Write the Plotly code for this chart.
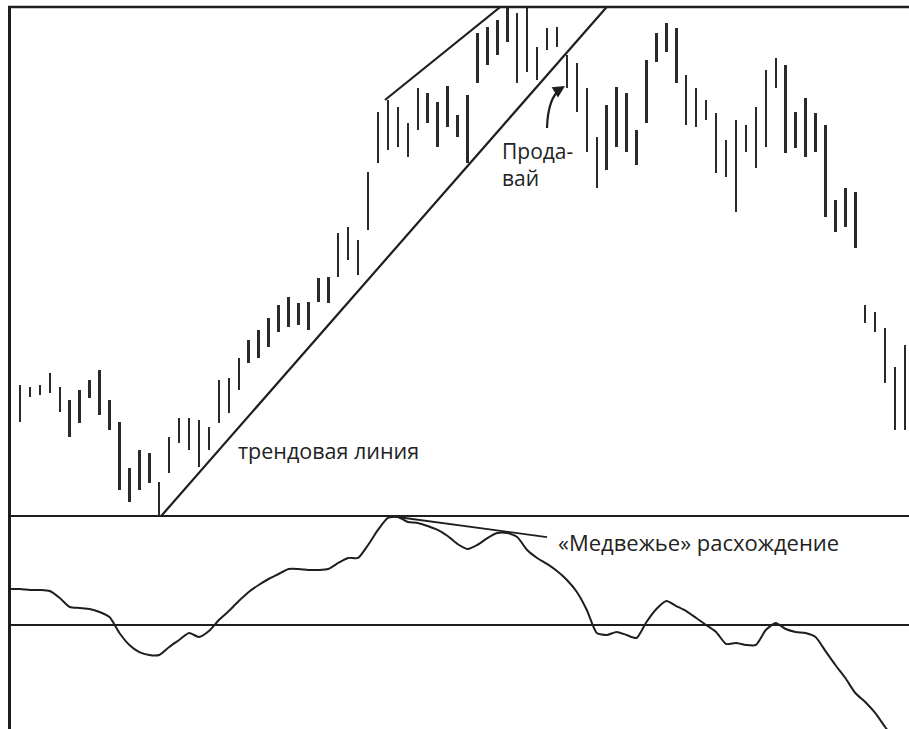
import plotly.graph_objects as go

# ---- data (bar index, price high/low, oscillator) ----
bar_index = list(range(91))
high = [26.6, 26.2, 25.8, 26.2, 28.6, 25.8, 23.2, 25.2, 27.2, 29.2,
        23.2, 18.8, 9.6, 13.2, 12.6, 6.8, 15.8, 19.6, 19.6, 19.2,
        17.8, 27.2, 27.6, 31.6, 35.2, 37.2, 39.6, 42.2, 43.8, 42.6,
        42.8, 47.6, 47.8, 56.6, 57.8, 55.2, 68.8, 80.8, 83.2, 81.8,
        78.6, 85.6, 84.6, 82.8, 86.0, 80.2, 84.2, 96.6, 97.8, 99.2,
        102.2, 100.6, 101.8, 93.8, 97.6, 97.8, 92.2, 90.6, 85.6, 75.8,
        82.2, 85.8, 84.6, 77.2, 91.2, 96.6, 98.6, 97.6, 88.2, 85.6,
        83.2, 80.6, 75.2, 79.2, 78.2, 81.8, 89.2, 91.6, 90.2, 80.8,
        83.6, 80.6, 78.2, 63.2, 65.6, 64.8, 42.2, 40.8, 37.6, 29.8,
        34.2]
low = [21.2, 18.8, 23.8, 24.2, 24.6, 20.8, 15.8, 18.6, 23.6, 20.2,
       17.2, 5.2, 2.8, 5.2, 6.6, 0.2, 8.6, 14.6, 13.2, 9.8,
       13.2, 18.6, 20.6, 25.2, 30.6, 31.6, 33.8, 36.8, 37.8, 38.2,
       37.2, 42.8, 42.6, 47.8, 51.2, 48.2, 57.2, 70.6, 73.2, 73.8,
       71.8, 77.2, 78.6, 73.8, 77.8, 75.8, 70.6, 86.6, 90.2, 92.2,
       94.8, 86.6, 88.8, 87.2, 93.2, 93.8, 85.6, 80.8, 72.8, 65.6,
       69.2, 73.8, 72.8, 70.2, 78.6, 90.8, 92.8, 86.6, 78.2, 77.8,
       79.2, 68.6, 67.8, 60.8, 72.8, 69.6, 73.8, 85.6, 72.6, 73.6,
       71.8, 72.8, 59.8, 56.8, 57.8, 53.6, 38.6, 36.8, 26.6, 17.2,
       17.2]
oscillator = [33.0, 33.0, 32.1, 32.1, 31.2, 24.8, 16.5, 15.6, 14.7, 11.9,
              7.3, -7.3, -18.3, -24.8, -27.5, -27.5, -20.2, -13.8, -7.3, -11.0,
              -5.5, 4.6, 12.8, 22.0, 30.3, 36.7, 42.2, 46.8, 51.4, 51.4,
              50.5, 50.5, 51.4, 56.9, 61.5, 61.5, 73.4, 87.2, 98.2, 99.1,
              94.5, 93.6, 90.8, 87.2, 81.7, 74.3, 69.7, 73.4, 79.8, 84.4,
              84.4, 80.7, 68.8, 61.5, 56.0, 49.5, 41.3, 30.3, 13.8, -7.3,
              -9.2, -6.4, -9.2, -11.9, 2.8, 14.7, 22.0, 17.4, 12.8, 6.4,
              0.0, -6.4, -17.4, -16.5, -18.3, -18.3, -4.6, 1.8, -3.7, -6.4,
              -7.3, -11.0, -23.9, -36.7, -48.6, -62.4, -70.6, -80.7, -93.6, -105.5,
              -114.7]

trend_x = [15.2, 60.0]
trend_y = [0.0, 101.8]
channel_x = [37.7, 49.3]
channel_y = [83.2, 101.8]
diverg_x = [38.2, 54.0]
diverg_y = [100.0, 80.7]
osc_levels = [100.0, 0.0]
level_x = [-0.1, 91]

W, H = 909, 729
def px(x):
    return x / W
def py(y):
    return 1 - y / H

INK = "#1e1e1e"
fig = go.Figure()

fig.add_trace(go.Bar(
    x=bar_index, y=[h - l for h, l in zip(high, low)], base=low,
    width=0.25, marker=dict(color="#2a2a2a", line=dict(width=0)),
    xaxis="x", yaxis="y", hoverinfo="skip"))
fig.add_trace(go.Scatter(x=trend_x, y=trend_y, mode="lines",
                         line=dict(color=INK, width=2.2), xaxis="x", yaxis="y"))
fig.add_trace(go.Scatter(x=channel_x, y=channel_y, mode="lines",
                         line=dict(color=INK, width=2.2), xaxis="x", yaxis="y"))
for lv in osc_levels:
    fig.add_trace(go.Scatter(x=level_x, y=[lv, lv], mode="lines",
                             line=dict(color=INK, width=2), xaxis="x2", yaxis="y2"))
fig.add_trace(go.Scatter(x=bar_index, y=oscillator, mode="lines",
                         line=dict(color=INK, width=2, shape="spline", smoothing=0.6),
                         xaxis="x2", yaxis="y2"))
fig.add_trace(go.Scatter(x=diverg_x, y=diverg_y, mode="lines",
                         line=dict(color=INK, width=1.8), xaxis="x2", yaxis="y2"))

xr = [-10.06 / 9.944, (W - 10.06) / 9.944]
extra = 6  # px overlap so the top level line is not clipped
fig.update_layout(
    width=W, height=H, margin=dict(l=0, r=0, t=0, b=0),
    paper_bgcolor="white", plot_bgcolor="rgba(0,0,0,0)", showlegend=False,
    bargap=0,
    xaxis=dict(range=xr, visible=False, domain=[0, 1], anchor="y"),
    yaxis=dict(range=[0, 101.8], visible=False, domain=[py(516), py(7)]),
    xaxis2=dict(range=xr, visible=False, domain=[0, 1], anchor="y2"),
    yaxis2=dict(range=[(625 - 729) / 1.09, 100 + extra / 1.09], visible=False,
                domain=[0, py(516 - extra)]),
    shapes=[
        dict(type="line", xref="paper", yref="paper", x0=px(8), x1=1, y0=py(7), y1=py(7),
             line=dict(color=INK, width=2.5)),
        dict(type="line", xref="paper", yref="paper", x0=px(9.5), x1=px(9.5), y0=py(7), y1=0,
             line=dict(color=INK, width=3)),
        dict(type="path", xref="paper", yref="paper",
             path=f"M {px(547)},{py(128)} Q {px(548)},{py(97)} {px(561)},{py(89)}",
             line=dict(color=INK, width=2.2)),
    ],
    annotations=[
        dict(text="трендовая линия", xref="paper", yref="paper", x=px(236), y=py(450),
             xanchor="left", yanchor="middle", showarrow=False,
             font=dict(family="Open Sans", size=21.5, color="#222")),
        dict(text="Прода-<br>вай", xref="paper", yref="paper", x=px(500), y=py(164),
             xanchor="left", yanchor="middle", showarrow=False, align="left",
             font=dict(family="Open Sans", size=21, color="#222")),
        dict(text="«Медвежье» расхождение", xref="paper", yref="paper", x=px(556), y=py(542),
             xanchor="left", yanchor="middle", showarrow=False,
             font=dict(family="Open Sans", size=22, color="#222")),
        dict(text="", xref="paper", yref="paper", x=px(565), y=py(86),
             ax=-8, ay=5, axref="pixel", ayref="pixel",
             showarrow=True, arrowhead=2, arrowsize=1.2, arrowwidth=2, arrowcolor=INK),
    ],
)

fig.write_html("out.html", config={"displayModeBar": False},
               post_script="document.body.style.margin='0';document.body.style.overflow='hidden';")
